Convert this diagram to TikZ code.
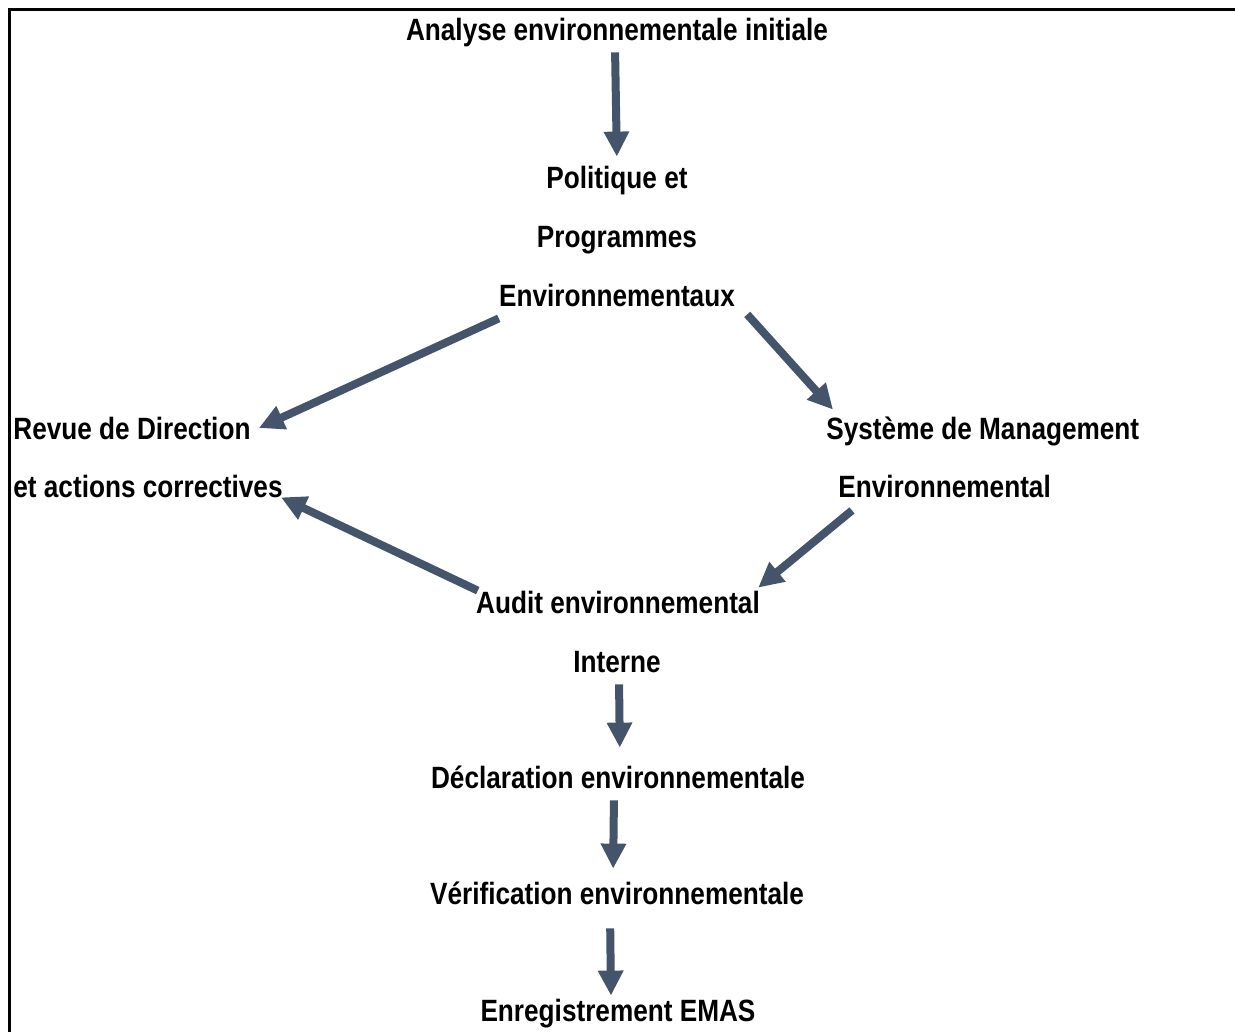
\documentclass[tikz,border=0pt]{standalone}
\usepackage{fontspec}
\setmainfont{Liberation Sans}[FakeStretch=0.85]
\usepackage{xcolor}
\usepackage{tikz}
\usetikzlibrary{arrows.meta}
\definecolor{arrowgray}{HTML}{44546A}

\begin{document}
\begin{tikzpicture}[x=0.5pt, y=-0.5pt]
\tikzstyle{stage} = [inner sep=0pt, anchor=base, text height=11pt, text depth=3pt, font=\fontsize{15.4}{18}\selectfont\bfseries]
\tikzstyle{stageleft} = [stage, anchor=base west]
\tikzstyle{arrow} = [line width=4pt, draw=arrowgray, -{Triangle[width=12pt,length=12.5pt]}]

\useasboundingbox (0,0) rectangle (1235,1032);
\draw [line width=1.5pt] (9.5,1032) -- (9.5,9.5) -- (1235,9.5);

\node (analyse) [stage] at (617,41) {Analyse environnementale initiale};
\node (pol1) [stage] at (617,189) {Politique et};
\node (pol2) [stage] at (617,248) {Programmes};
\node (pol3) [stage] at (617,306) {Environnementaux};
\node (revue1) [stageleft] at (13,439) {Revue de Direction};
\node (revue2) [stageleft] at (13,497) {et actions correctives};
\node (sme1) [stageleft] at (826,439) {Système de Management};
\node (sme2) [stageleft] at (838,497) {Environnemental};
\node (audit1) [stage] at (618,613) {Audit environnemental};
\node (audit2) [stage] at (617,672) {Interne};
\node (decl) [stage] at (618,788) {Déclaration environnementale};
\node (verif) [stage] at (617,904) {Vérification environnementale};
\node (emas) [stage] at (618,1021) {Enregistrement EMAS};

\draw [arrow, shorten <=2.5pt, shorten >=5pt] ([xshift=-1pt]analyse.south) -- (pol1.north);
\draw [arrow] ([yshift=-3pt]pol3.south west) -- ([xshift=4pt, yshift=1.5pt]revue1.east);
\draw [arrow] ([xshift=6pt, yshift=-1pt]pol3.south east) -- ([xshift=3.5pt, yshift=3.5pt]sme1.north west);
\draw [arrow] ([xshift=7pt, yshift=-3.5pt]sme2.south west) -- ([xshift=-1pt, yshift=1.5pt]audit1.north east);
\draw [arrow] ([xshift=1pt]audit1.north west) -- ([xshift=-1pt, yshift=3pt]revue2.south east);
\draw [arrow, shorten <=3pt, shorten >=9pt] ([xshift=1pt]audit2.south) -- ([xshift=1pt]decl.north);
\draw [arrow, shorten <=3pt, shorten >=6.5pt] ([xshift=-2pt]decl.south) -- ([xshift=-2pt]verif.north);
\draw [arrow, shorten <=9pt, shorten >=1.5pt] ([xshift=-3.5pt]verif.south) -- ([xshift=-3.5pt]emas.north);

\end{tikzpicture}
\end{document}
